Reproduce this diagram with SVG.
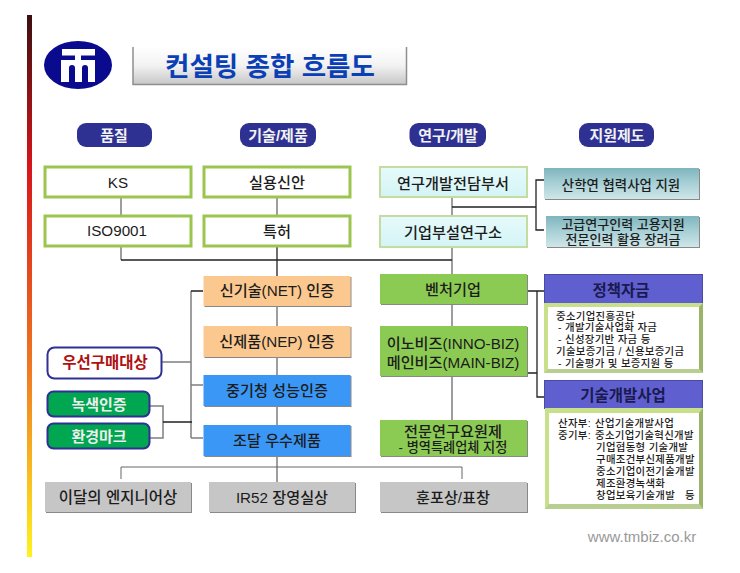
<svg xmlns="http://www.w3.org/2000/svg" width="740" height="573" viewBox="0 0 740 573">
<style>
text{font-family:"Liberation Sans","Noto Sans CJK KR",sans-serif;text-anchor:middle;font-weight:500;fill:#1c1c1c}
.b{font-size:15.2px}
.pill{fill:#2e3192}
.pt{fill:#f2f2f2;font-size:15px;font-weight:700}
.wb{fill:#fff;stroke:#9cc550;stroke-width:3}
.cy{fill:url(#gc);stroke:#c5dca0;stroke-width:2}
.t{fill:url(#gt);filter:url(#sh)}
.gr{fill:#8ccb52;filter:url(#sh)}
.or{fill:#fbc88f;filter:url(#sh)}
.bl{fill:#3b97f5;filter:url(#sh)}
.gy{fill:#c6c6c6;filter:url(#sh)}
.pu{fill:#5f5fcf;stroke:#4a4aa5;stroke-width:1}
.hd{font-size:15.500px;font-weight:700;fill:#1a1a50}
.l{text-anchor:start;font-size:10.400px;letter-spacing:.33px}
.ol{fill:#c9e08a}
.dk{fill:#9ab56a}
.md{fill:#b9cf92}
.c1{fill:none;stroke:#7f7f7f;stroke-width:1.500}
.c2{fill:none;stroke:#222;stroke-width:1.300}
.c3{fill:none;stroke:#666;stroke-width:1}
</style>
<defs>
<filter id="sh" x="-5%" y="-10%" width="110%" height="125%"><feDropShadow dx="1" dy="1" stdDeviation="0.4" flood-color="#888"/></filter>
<linearGradient id="bar" x1="0" y1="0" x2="0" y2="1"><stop offset="0" stop-color="#3c0f10"/><stop offset=".28" stop-color="#d8151a"/><stop offset=".65" stop-color="#f07820"/><stop offset="1" stop-color="#fff21e"/></linearGradient>
<linearGradient id="ti" x1="0" y1="0" x2="0" y2="1"><stop offset="0" stop-color="#fff"/><stop offset=".5" stop-color="#f2f2f2"/><stop offset="1" stop-color="#c8c8c8"/></linearGradient>
<linearGradient id="gc" x1="0" y1="0" x2="0" y2="1"><stop offset="0" stop-color="#e6fafa"/><stop offset="1" stop-color="#d4f4f6"/></linearGradient>
<linearGradient id="gt" x1="0" y1="0" x2="0" y2="1"><stop offset="0" stop-color="#7fb5bd"/><stop offset=".5" stop-color="#a8d0d6"/><stop offset="1" stop-color="#cfe6e8"/></linearGradient>
</defs>
<rect width="740" height="573" fill="#fff"/>
<rect x="27" y="15" width="5" height="542" fill="url(#bar)"/>
<g id="logo"><ellipse cx="78" cy="65" rx="34" ry="24" fill="#0a0a8f"/>
<path d="M62 49H95V55.500H81V60H95V82H88V68Q88 65 85 65Q82 65 82 68V82H75V68Q75 65 72 65Q69 65 69 68V82H61V60H75V55.500H62Z" fill="#fff"/></g>
<g id="title"><rect x="133" y="47" width="273" height="37" fill="url(#ti)"/>
<path d="M133 47V84.500H406.500V47" fill="none" stroke="#8f8f8f" stroke-width="1.500"/>
<text x="270" y="76" style="font-size:26.500px;font-weight:700;fill:#0b3fb5">컨설팅 종합 흐름도</text></g>
<g id="connectors">
<path class="c1" d="M121 198V215M277 198V216M452 197V216M452 247V276M277 306V326M277 357V375M277 406V425M452 304V326M452 376V420M277 456V482M191 291V438M162 362H191M191 385H203M191 438H203M150 406H163V438H150M121 247V260"/>
<path class="c2" d="M121 260H452M277 247V276M452 207H536M544 180H536V230H544M527 291H544M527 373H537M537 291V397H544M191 291H203M163 422H192"/>
<path class="c3" d="M121 479V467H462V479"/>
</g>
<g id="p1"><rect class="pill" x="77" y="123" width="75" height="24" rx="9"/><text class="pt" x="114" y="141">품질</text></g>
<g id="p2"><rect class="pill" x="240" y="123" width="76" height="24" rx="9"/><text class="pt" x="278" y="141">기술/제품</text></g>
<g id="p3"><rect class="pill" x="409.500" y="123" width="76.500" height="24" rx="9"/><text class="pt" x="448" y="141">연구/개발</text></g>
<g id="p4"><rect class="pill" x="579" y="123" width="75" height="24" rx="9"/><text class="pt" x="617" y="141">지원제도</text></g>
<g id="ks"><rect class="wb" x="45" y="167" width="146" height="30"/><text class="b" x="118" y="188">KS</text></g>
<g id="iso"><rect class="wb" x="45" y="216" width="146" height="30"/><text class="b" x="117" y="236">ISO9001</text></g>
<g id="um"><rect class="wb" x="204" y="167" width="146" height="30"/><text class="b" x="277" y="188">실용신안</text></g>
<g id="pat"><rect class="wb" x="204" y="216" width="146" height="30"/><text class="b" x="277" y="237">특허</text></g>
<g id="rd1"><rect class="cy" x="380" y="167" width="147" height="30"/><text class="b" x="453" y="189">연구개발전담부서</text></g>
<g id="rd2"><rect class="cy" x="380" y="216" width="147" height="31"/><text class="b" x="453" y="238">기업부설연구소</text></g>
<g id="s1"><rect class="t" x="544" y="168" width="155" height="31"/><text x="621" y="190" style="font-size:13.400px">산학연 협력사업 지원</text></g>
<g id="s2"><rect class="t" x="546" y="216" width="153" height="31"/><text x="623" y="229" style="font-size:13px">고급연구인력 고용지원</text><text x="623" y="244" style="font-size:13px">전문인력 활용 장려금</text></g>
<g id="net"><rect class="or" x="203.500" y="276" width="147" height="30"/><text class="b" x="277" y="296">신기술(NET) 인증</text></g>
<g id="nep"><rect class="or" x="203.500" y="326" width="147" height="31"/><text class="b" x="277" y="347">신제품(NEP) 인증</text></g>
<g id="sme"><rect class="bl" x="203.500" y="375" width="147" height="31"/><text class="b" x="277" y="396">중기청 성능인증</text></g>
<g id="gov"><rect class="bl" x="203.500" y="425" width="147" height="31"/><text class="b" x="277" y="446">조달 우수제품</text></g>
<g id="pref"><rect x="47.500" y="347.500" width="114" height="31" rx="7" fill="#fff" stroke="#2e3192" stroke-width="2"/><text x="105" y="368" style="font-size:15.500px;font-weight:700;fill:#b01010">우선구매대상</text></g>
<g id="green"><rect x="47.500" y="391.500" width="102" height="25" rx="6" fill="#00a650" stroke="#2e3192" stroke-width="2"/><text x="99" y="409.500" style="font-size:15px;font-weight:700;fill:#eee">녹색인증</text></g>
<g id="env"><rect x="47.500" y="423.500" width="102" height="25" rx="6" fill="#00a650" stroke="#2e3192" stroke-width="2"/><text x="99" y="441.500" style="font-size:15px;font-weight:700;fill:#eee">환경마크</text></g>
<g id="venture"><rect class="gr" x="380" y="274" width="147" height="30"/><text class="b" x="453" y="295">벤처기업</text></g>
<g id="inno"><rect class="gr" x="380" y="326" width="147" height="50"/><text class="b" x="453" y="349">이노비즈(INNO-BIZ)</text><text class="b" x="453" y="368">메인비즈(MAIN-BIZ)</text></g>
<g id="expert"><rect class="gr" x="380" y="420" width="147" height="36"/><text class="b" x="453" y="437">전문연구요원제</text><text x="453" y="452" style="font-size:13.200px">- 병역특례업체 지정</text></g>
<g id="a1"><rect class="gy" x="45" y="482" width="146" height="30"/><text x="118" y="503" style="font-size:15.500px">이달의 엔지니어상</text></g>
<g id="a2"><rect class="gy" x="209" y="482" width="146" height="30"/><text class="b" x="282" y="503">IR52 장영실상</text></g>
<g id="a3"><rect class="gy" x="380" y="482" width="147" height="30"/><text class="b" x="453" y="503">훈포상/표창</text></g>
<g id="fund"><rect class="pu" x="544.500" y="274.500" width="158" height="29"/><text class="hd" x="621" y="296">정책자금</text>
<rect class="ol" x="544" y="303" width="159" height="70"/><path class="dk" d="M703 303V373L699 369V307Z"/><path class="md" d="M544 373H703L699 369H548Z"/><rect x="548" y="307" width="151" height="62" fill="#fff"/>
<text class="l" x="556" y="320">중소기업진흥공단</text><text class="l" x="558" y="331">- 개발기술사업화 자금</text><text class="l" x="558" y="343">- 신성장기반 자금 등</text><text class="l" x="556" y="355">기술보증기금 / 신용보증기금</text><text class="l" x="558" y="367">- 기술평가 및 보증지원 등</text></g>
<g id="dev"><rect class="pu" x="544.500" y="380.500" width="158" height="28"/><text class="hd" x="623" y="401">기술개발사업</text>
<rect class="ol" x="545" y="408" width="158" height="101"/><path class="dk" d="M703 408V509L699 504V413Z"/><path class="md" d="M545 509H703L699 504H549Z"/><rect x="549" y="413" width="150" height="91" fill="#fff"/>
<text class="l" x="558" y="427">산자부:</text><text class="l" x="595" y="427">산업기술개발사업</text>
<text class="l" x="558" y="439">중기부:</text><text class="l" x="595" y="439">중소기업기술혁신개발</text>
<text class="l" x="596" y="451">기업협동형 기술개발</text><text class="l" x="596" y="463">구매조건부신제품개발</text><text class="l" x="596" y="475">중소기업이전기술개발</text><text class="l" x="596" y="487">제조환경녹색화</text><text class="l" x="596" y="499">창업보육기술개발</text><text class="l" x="685" y="499">등</text></g>
<text x="642" y="542" style="font-size:15px;fill:#999;font-weight:400">www.tmbiz.co.kr</text>
</svg>
